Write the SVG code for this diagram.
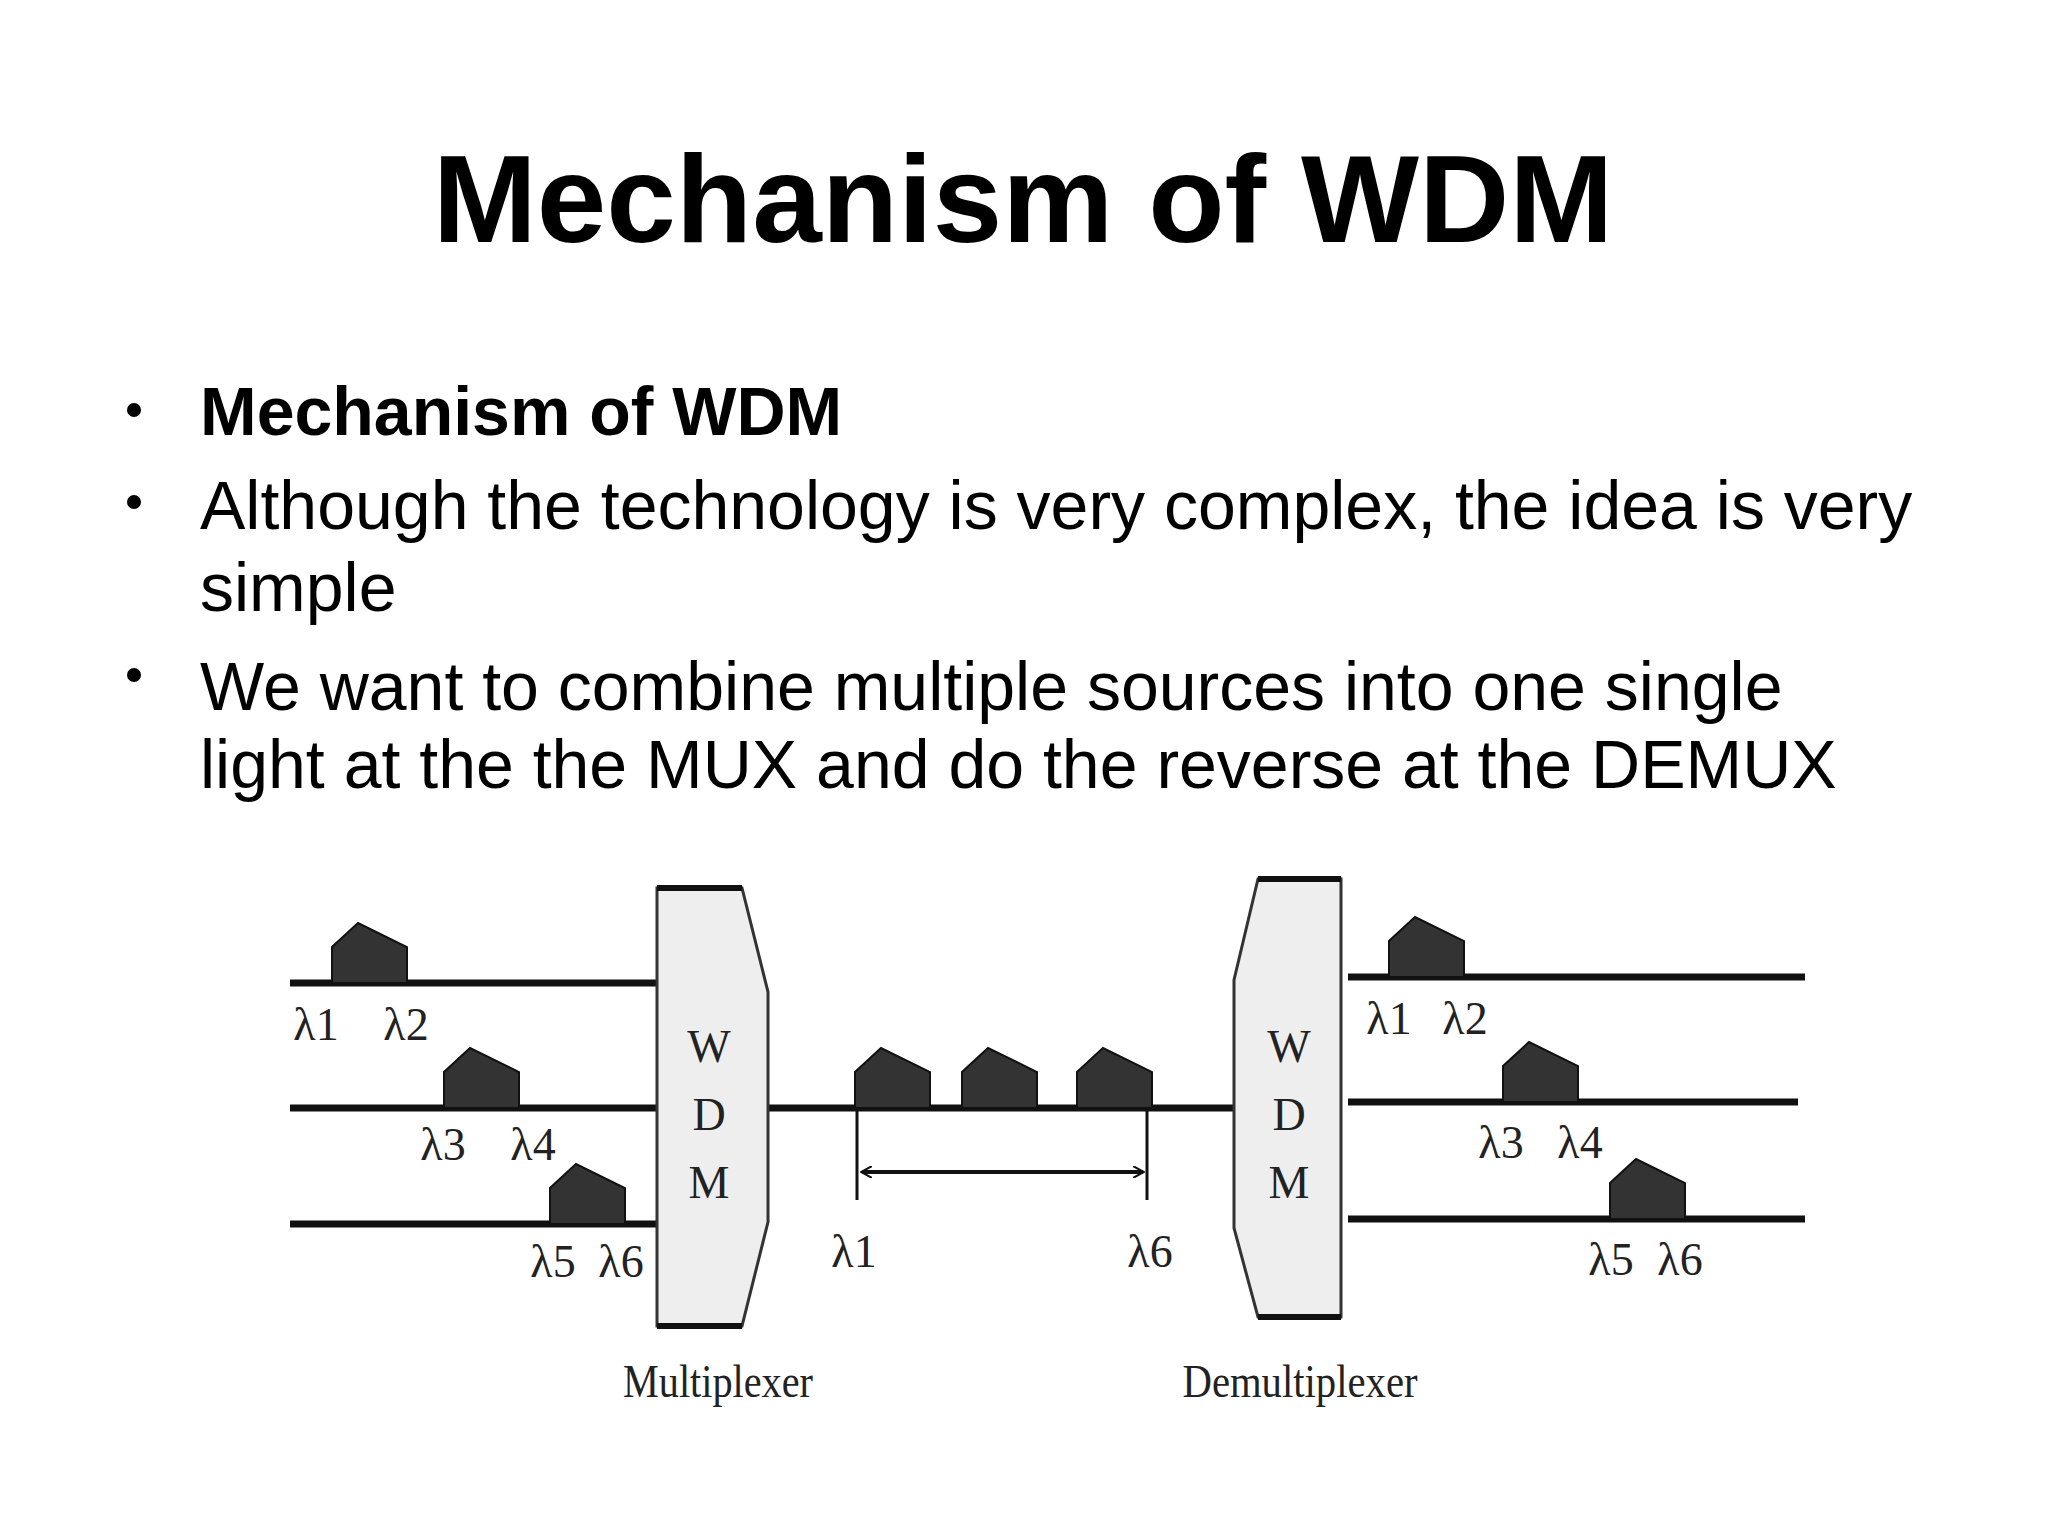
<svg xmlns="http://www.w3.org/2000/svg" width="2048" height="1536" viewBox="0 0 2048 1536">
<style>
.t{font-family:"Liberation Sans",Arial,sans-serif;fill:#000}
.s{font-family:"Liberation Serif","Times New Roman",serif;fill:#222;font-size:46px;text-anchor:middle}
.ln{stroke:#111;stroke-width:7;fill:none}
.p{fill:#333;stroke:#111;stroke-width:2}
.box{fill:#eee;stroke:#333;stroke-width:3}
</style>
<defs>
<path id="pulse" d="M0 0 V-36 L26 -60 L75 -36 V0 Z"/>
<marker id="ah" markerWidth="12" markerHeight="12" refX="10" refY="6" orient="auto-start-reverse" markerUnits="userSpaceOnUse"><path d="M0 0 L11 6 L0 12" fill="none" stroke="#111" stroke-width="2"/></marker>
</defs>
<rect width="2048" height="1536" fill="#fff"/>
<text class="t" x="1023" y="242" font-size="125" font-weight="bold" text-anchor="middle">Mechanism of WDM</text>
<g class="t" font-size="68">
<circle cx="134" cy="410" r="7"/><circle cx="134" cy="502" r="7"/><circle cx="134" cy="675" r="7"/>
<text x="200" y="435" font-weight="bold">Mechanism of WDM</text>
<text x="200" y="529">Although the technology is very complex, the idea is very</text>
<text x="200" y="611">simple</text>
<text x="200" y="710">We want to combine multiple sources into one single</text>
<text x="200" y="788">light at the the MUX and do the reverse at the DEMUX</text>
</g>
<g id="connectors">
<line class="ln" x1="290" y1="983" x2="657" y2="983"/>
<line class="ln" x1="290" y1="1108" x2="657" y2="1108"/>
<line class="ln" x1="290" y1="1224" x2="657" y2="1224"/>
<line class="ln" x1="768" y1="1108" x2="1234" y2="1108"/>
<line class="ln" x1="1348" y1="977" x2="1805" y2="977"/>
<line class="ln" x1="1348" y1="1102" x2="1798" y2="1102"/>
<line class="ln" x1="1348" y1="1219" x2="1805" y2="1219"/>
<line x1="857" y1="1108" x2="857" y2="1200" stroke="#111" stroke-width="3"/>
<line x1="1147" y1="1108" x2="1147" y2="1200" stroke="#111" stroke-width="3"/>
<line x1="862" y1="1172" x2="1143" y2="1172" stroke="#111" stroke-width="4" marker-start="url(#ah)" marker-end="url(#ah)"/>
</g>
<g id="pulses">
<use href="#pulse" class="p" x="332" y="983"/>
<use href="#pulse" class="p" x="444" y="1108"/>
<use href="#pulse" class="p" x="550" y="1224"/>
<use href="#pulse" class="p" x="855" y="1108"/>
<use href="#pulse" class="p" x="962" y="1108"/>
<use href="#pulse" class="p" x="1077" y="1108"/>
<use href="#pulse" class="p" x="1389" y="977"/>
<use href="#pulse" class="p" x="1503" y="1102"/>
<use href="#pulse" class="p" x="1610" y="1219"/>
</g>
<g id="mux">
<path class="box" d="M657 888 H742 L768 992 V1222 L742 1326 H657 Z"/>
<line x1="657" y1="888" x2="742" y2="888" stroke="#111" stroke-width="6"/>
<line x1="657" y1="1326" x2="742" y2="1326" stroke="#111" stroke-width="6"/>
<text class="s" x="709" y="1062">W</text><text class="s" x="709" y="1130">D</text><text class="s" x="709" y="1198">M</text>
<text class="s" x="718" y="1397" font-size="44" textLength="190" lengthAdjust="spacingAndGlyphs">Multiplexer</text>
</g>
<g id="demux">
<path class="box" d="M1258 879 H1341 V1317 H1258 L1234 1228 V980 Z"/>
<line x1="1258" y1="879" x2="1341" y2="879" stroke="#111" stroke-width="6"/>
<line x1="1258" y1="1317" x2="1341" y2="1317" stroke="#111" stroke-width="6"/>
<text class="s" x="1289" y="1062">W</text><text class="s" x="1289" y="1130">D</text><text class="s" x="1289" y="1198">M</text>
<text class="s" x="1300" y="1397" font-size="44" textLength="235" lengthAdjust="spacingAndGlyphs">Demultiplexer</text>
</g>
<g id="labels" class="s" font-size="46">
<text x="316" y="1040">λ1</text><text x="406" y="1040">λ2</text>
<text x="443" y="1160">λ3</text><text x="533" y="1160">λ4</text>
<text x="553" y="1277">λ5</text><text x="621" y="1277">λ6</text>
<text x="854" y="1267">λ1</text><text x="1150" y="1267">λ6</text>
<text x="1389" y="1034">λ1</text><text x="1465" y="1034">λ2</text>
<text x="1501" y="1158">λ3</text><text x="1580" y="1158">λ4</text>
<text x="1611" y="1275">λ5</text><text x="1680" y="1275">λ6</text>
</g>
</svg>
